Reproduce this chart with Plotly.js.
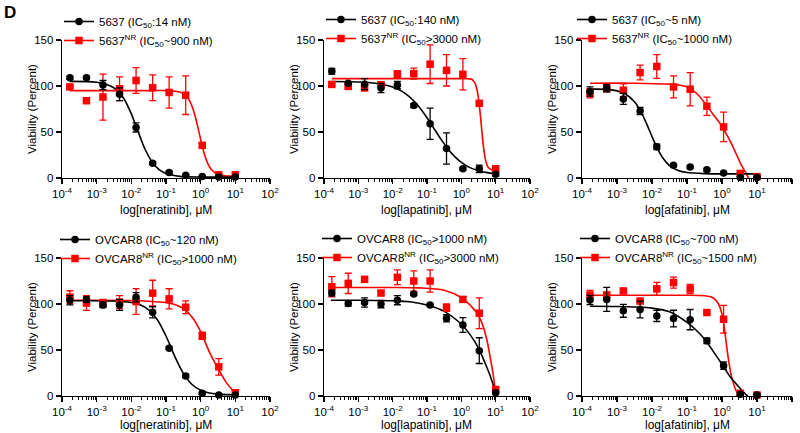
<!DOCTYPE html>
<html>
<head>
<meta charset="utf-8">
<script src="https://cdn.plot.ly/plotly-3.0.1.min.js"></script>
<style>html,body{margin:0;padding:0;background:#fff;}#chart{width:800px;height:433px;}</style>
</head>
<body>
<div id="chart"></div>
<script>
// ---------------- DATA ----------------
// drug concentrations, µM (3-fold dilution series)
const dose = [0.000169, 0.000508, 0.00152, 0.00457, 0.0137, 0.0412, 0.123, 0.370, 1.11, 3.33, 10];

const drugs = ['neratinib', 'lapatinib', 'afatinib', 'neratinib', 'lapatinib', 'afatinib'];
const wtNames = [
  '5637 (IC<sub>50</sub>:14 nM)',
  '5637 (IC<sub>50</sub>:140 nM)',
  '5637 (IC<sub>50</sub>~5 nM)',
  'OVCAR8 (IC<sub>50</sub>~120 nM)',
  'OVCAR8 (IC<sub>50</sub>>1000 nM)',
  'OVCAR8 (IC<sub>50</sub>~700 nM)'
];
const nrNames = [
  '5637<sup>NR</sup> (IC<sub>50</sub>~900 nM)',
  '5637<sup>NR</sup> (IC<sub>50</sub>>3000 nM)',
  '5637<sup>NR</sup> (IC<sub>50</sub>~1000 nM)',
  'OVCAR8<sup>NR</sup> (IC<sub>50</sub>>1000 nM)',
  'OVCAR8<sup>NR</sup> (IC<sub>50</sub>>3000 nM)',
  'OVCAR8<sup>NR</sup> (IC<sub>50</sub>~1500 nM)'
];

// Panel 1: 5637, neratinib
const p1WtY   = [109, 109, 101, 91, 55, 16, 6, 3, 1.5, 1, 1];
const p1WtErr = [1.5, 1.5, 5, 7, 5, 1.5, 1.5, 1, 1, 1, 1];
const p1NrY   = [99, 84, 88, 97, 106, 98, 93, 90, 35.5, 3.5, 3.5];
const p1NrErr = [1.5, 2.5, 25, 13, 14, 14, 17, 21, 2, 1.5, 1.5];
const p1WtFitLogX = [-3.77, -3, -2.6, -2.4, -2.2, -2.0, -1.9, -1.8, -1.7, -1.6, -1.4, -1.2, -1.0, -0.6, 0, 1];
const p1WtFitY    = [105, 104, 100, 95, 85.3, 69.7, 60, 50, 40, 31, 17.3, 9.1, 4.9, 1.8, 1, 1];
const p1NrFitLogX = [-3.77, -2.5, -1.5, -1, -0.6, -0.4, -0.3, -0.2, -0.1, 0, 0.1, 0.2, 0.3, 0.5, 0.7, 1];
const p1NrFitY    = [95, 95, 95, 95, 93.4, 88.4, 82.4, 72.5, 58.3, 41.9, 27, 16.2, 9.6, 3.9, 2.5, 2];

// Panel 2: 5637, lapatinib
const p2WtY   = [116, 103, 102, 97.7, 101, 78.7, 59, 32, 10, 10, 4];
const p2WtErr = [3, 1.5, 6, 5, 4, 2, 17, 17, 1.5, 4, 2];
const p2NrY   = [101.7, 99.5, 98, 101.4, 112.7, 113.4, 123.7, 117, 112.7, 81.2, 10];
const p2NrErr = [1.5, 1.5, 3, 2, 4, 6, 21, 17, 17, 1.5, 3];
const p2WtFitLogX = [-3.77, -3, -2.5, -2, -1.75, -1.5, -1.25, -1, -0.8, -0.6, -0.4, -0.2, 0, 0.25, 0.5, 0.75, 1];
const p2WtFitY    = [104.9, 104.4, 103, 99, 94.7, 88, 78.3, 65.5, 54, 42.5, 32.1, 23.5, 17, 11.3, 7.9, 5.8, 4.6];
const p2NrFitLogX = [-3.77, -2, -1, 0, 0.2, 0.3, 0.35, 0.4, 0.45, 0.5, 0.55, 0.6, 0.65, 0.7, 0.75, 0.8, 0.9, 1];
const p2NrFitY    = [108, 108, 108, 108, 107.8, 107.4, 105.6, 102.8, 97, 86.4, 69.8, 50, 32.4, 20.6, 14, 10.8, 8.6, 8.2];

// Panel 3: 5637, afatinib
const p3WtY   = [94, 97.6, 86, 72.8, 33.9, 13.8, 12, 9, 5.5, 0.5, 0.5];
const p3WtErr = [5, 4, 6, 4, 3, 1.5, 1.5, 1.5, 1.5, 1, 1];
const p3NrY   = [92, 97, 95.4, 114.7, 121.2, 99, 96.5, 78, 55.5, 5, 1.5];
const p3NrErr = [5, 2, 7, 8, 13, 12, 18, 10, 16, 1.5, 1.5];
const p3WtFitLogX = [-3.77, -3.25, -3, -2.75, -2.5, -2.3, -2.15, -2.0, -1.85, -1.7, -1.5, -1.25, -1, -0.5, 0, 1];
const p3WtFitY    = [96.9, 96.1, 94.7, 91.1, 82.9, 70.9, 58.6, 45.1, 32.4, 22.3, 13.5, 8.2, 6, 4.8, 4.5, 4.5];
const p3NrFitLogX = [-3.77, -2.5, -1.5, -1.22, -0.94, -0.7, -0.46, -0.25, 0, 0.15, 0.3, 0.42, 0.54, 0.66, 0.77];
const p3NrFitY    = [103, 103, 102, 101, 98, 91, 80, 69, 56.5, 46, 35, 25, 15, 7, -1];

// Panel 4: OVCAR8, neratinib
const p4WtY   = [104, 104.8, 99, 99, 107.4, 91, 52, 21.8, 2.9, 1, 1];
const p4WtErr = [5, 3, 3, 6, 5, 6, 1.5, 2, 1, 1, 1];
const p4NrY   = [107.4, 101, 101, 102, 102.7, 111.8, 105.6, 96.5, 65.5, 31.7, 3.6];
const p4NrErr = [7, 8, 4, 7, 14, 14, 11, 7, 4, 9, 1.5];
const p4WtFitLogX = [-3.77, -2.5, -2, -1.75, -1.5, -1.25, -1.0, -0.85, -0.7, -0.5, -0.25, 0, 0.25, 0.5, 1];
const p4WtFitY    = [103.5, 103.3, 101.6, 99.1, 93.7, 82.9, 65.2, 52.2, 39.2, 24.6, 12.5, 6.2, 3.2, 2, 1.1];
const p4NrFitLogX = [-3.77, -2, -1.5, -1, -0.75, -0.5, -0.25, 0, 0.25, 0.5, 0.75, 1];
const p4NrFitY    = [104, 103.8, 103, 101.5, 99.5, 95, 86, 70, 48, 30, 14, 3];

// Panel 5: OVCAR8, lapatinib
const p5WtY   = [111.9, 100.6, 101.7, 99.9, 104.2, 110.8, 99, 84.5, 77.2, 49.3, 3.5];
const p5WtErr = [3, 3, 5, 4, 5, 1.5, 1.5, 4, 8, 14, 1];
const p5NrY   = [118.8, 122.4, 126.8, 111.9, 129, 125, 125, 96, 105, 90, 7];
const p5NrErr = [11, 11, 2, 2, 8, 11, 12, 4, 3, 16.7, 1.5];
const p5WtFitLogX = [-3.8, -3, -2, -1.5, -1, -0.5, 0, 0.25, 0.5, 0.7, 0.85, 1];
const p5WtFitY    = [104, 104, 103.5, 102.5, 99, 92, 78, 67, 52, 35, 21, 3.5];
const p5NrFitLogX = [-3.8, -2, -1.25, -0.5, 0, 0.25, 0.5, 0.65, 0.75, 0.85, 0.92, 1];
const p5NrFitY    = [118, 118, 117.5, 115, 107, 99, 87.5, 74, 60, 40, 25, 4];

// Panel 6: OVCAR8, afatinib
const p6WtY   = [104.3, 105, 92.6, 94, 87, 84.2, 83, 60, 33, 1.8, 1];
const p6WtErr = [5, 13, 7, 9, 6, 9, 11, 3, 4, 1, 1];
const p6NrY   = [109.8, 109.8, 114.2, 103.2, 116.4, 123.3, 116.4, 90.7, 83.4, 2.9, 1];
const p6NrErr = [5, 3, 1.5, 1.5, 7, 6, 5, 1.5, 15, 1.5, 1.5];
const p6WtFitLogX = [-3.77, -3, -2.5, -2, -1.5, -1, -0.75, -0.5, -0.25, 0, 0.25, 0.5, 0.7, 0.8];
const p6WtFitY    = [97.5, 97.3, 96.8, 95.5, 91.5, 80, 72, 62, 48.5, 34.5, 20, 9, 1, -3];
const p6NrFitLogX = [-3.77, -2, -1, -0.5, -0.3, -0.2, -0.1, 0, 0.05, 0.1, 0.15, 0.2, 0.25, 0.3, 0.4, 0.5, 0.6];
const p6NrFitY    = [109.5, 109.5, 109.5, 109, 107.5, 105, 100, 89, 78, 64, 49, 36, 25, 17, 6, 1, -2];

const xTickVals = [1e-4, 1e-3, 1e-2, 1e-1, 1e0, 1e1, 1e2];
const xTickText = ['10<sup>-4</sup>', '10<sup>-3</sup>', '10<sup>-2</sup>', '10<sup>-1</sup>', '10<sup>0</sup>', '10<sup>1</sup>', '10<sup>2</sup>'];
const yTickVals = [0, 50, 100, 150];

// ---------------- STYLE / LAYOUT ----------------
const W = 800, H = 433;
const FONT = 'Liberation Sans, Arial, Helvetica, sans-serif';
const COL_WT = '#000000', COL_NR = '#ff0000';

const panels = [
  {wtY:p1WtY, wtErr:p1WtErr, nrY:p1NrY, nrErr:p1NrErr, wfx:p1WtFitLogX, wfy:p1WtFitY, nfx:p1NrFitLogX, nfy:p1NrFitY},
  {wtY:p2WtY, wtErr:p2WtErr, nrY:p2NrY, nrErr:p2NrErr, wfx:p2WtFitLogX, wfy:p2WtFitY, nfx:p2NrFitLogX, nfy:p2NrFitY},
  {wtY:p3WtY, wtErr:p3WtErr, nrY:p3NrY, nrErr:p3NrErr, wfx:p3WtFitLogX, wfy:p3WtFitY, nfx:p3NrFitLogX, nfy:p3NrFitY},
  {wtY:p4WtY, wtErr:p4WtErr, nrY:p4NrY, nrErr:p4NrErr, wfx:p4WtFitLogX, wfy:p4WtFitY, nfx:p4NrFitLogX, nfy:p4NrFitY},
  {wtY:p5WtY, wtErr:p5WtErr, nrY:p5NrY, nrErr:p5NrErr, wfx:p5WtFitLogX, wfy:p5WtFitY, nfx:p5NrFitLogX, nfy:p5NrFitY},
  {wtY:p6WtY, wtErr:p6WtErr, nrY:p6NrY, nrErr:p6NrErr, wfx:p6WtFitLogX, wfy:p6WtFitY, nfx:p6NrFitLogX, nfy:p6NrFitY}
];

// pixel boxes of each subplot: [x0, x1, yTop, yBottom]
const boxes = [
  [62, 270, 40, 178], [324, 530, 40, 178], [582, 792, 40, 178],
  [62, 270, 258, 396], [324, 530, 258, 396], [582, 792, 258, 396]
];
// legend left (px), legend top (px), x-title offset below axis (px)
const legendPos = [[59, 7], [321, 5], [572, 5], [55, 225], [317, 224], [575, 224]];
const xTitleOffset = [32, 32, 32, 29, 29, 29];

const minorVals = [];
for (let e = -4; e < 2; e++) for (let k = 2; k <= 9; k++) minorVals.push(k * Math.pow(10, e));

const traces = [];
const layout = {
  width: W, height: H,
  margin: {l: 0, r: 0, t: 0, b: 0},
  paper_bgcolor: '#fff', plot_bgcolor: '#fff',
  font: {family: FONT, size: 11.5, color: '#000'},
  showlegend: true,
  annotations: [
    {text: '<b>D</b>', x: 2 / W, y: 1 - 1 / H, xref: 'paper', yref: 'paper', xanchor: 'left', yanchor: 'top',
     showarrow: false, font: {family: FONT, size: 17, color: '#000'}}
  ]
};

panels.forEach((p, i) => {
  const n = i + 1;
  const sfx = n === 1 ? '' : String(n);
  const xa = 'x' + sfx, ya = 'y' + sfx, lg = 'legend' + sfx;
  const b = boxes[i];

  layout['xaxis' + sfx] = {
    type: 'log', range: [-4, 2], domain: [b[0] / W, b[1] / W], anchor: ya,
    showline: true, linecolor: '#000', linewidth: 1.3, mirror: false,
    ticks: 'outside', ticklen: 5, tickwidth: 1.2, tickcolor: '#000',
    tickmode: 'array', tickvals: xTickVals, ticktext: xTickText,
    tickfont: {family: FONT, size: 11.5, color: '#000'},
    showgrid: false, zeroline: false, fixedrange: true,
    minor: {tickmode: 'array', tickvals: minorVals, ticks: 'outside', ticklen: 3, tickwidth: 1, tickcolor: '#000', showgrid: false}
  };
  layout['yaxis' + sfx] = {
    range: [0, 150], domain: [1 - b[3] / H, 1 - b[2] / H], anchor: xa,
    showline: true, linecolor: '#000', linewidth: 1.3,
    ticks: 'outside', ticklen: 5, tickwidth: 1.2, tickcolor: '#000',
    tickmode: 'array', tickvals: yTickVals,
    tickfont: {family: FONT, size: 11.5, color: '#000'},
    showgrid: false, zeroline: false, fixedrange: true
  };
  layout[lg] = {
    x: legendPos[i][0] / W, y: 1 - legendPos[i][1] / H, xanchor: 'left', yanchor: 'top',
    bgcolor: 'rgba(0,0,0,0)', borderwidth: 0, font: {family: FONT, size: 11.5, color: '#000'},
    itemwidth: 30, traceorder: 'normal', tracegroupgap: 3
  };
  // axis titles
  layout.annotations.push(
    {text: 'log[' + drugs[i] + '], \u03bcM', x: ((b[0] + b[1]) / 2) / W, y: 1 - (b[3] + xTitleOffset[i]) / H,
     xref: 'paper', yref: 'paper', xanchor: 'center', yanchor: 'middle', showarrow: false,
     font: {family: FONT, size: 12, color: '#000'}},
    {text: 'Viability (Percent)', textangle: -90, x: (b[0] - 30) / W, y: 1 - ((b[2] + b[3]) / 2) / H,
     xref: 'paper', yref: 'paper', xanchor: 'center', yanchor: 'middle', showarrow: false,
     font: {family: FONT, size: 11.5, color: '#000'}}
  );

  // fitted curves
  traces.push({
    x: p.nfx.map(v => Math.pow(10, v)), y: p.nfy, mode: 'lines', xaxis: xa, yaxis: ya,
    line: {color: COL_NR, width: 1.6, shape: 'spline', smoothing: 0.8}, showlegend: false, hoverinfo: 'skip'
  });
  traces.push({
    x: p.wfx.map(v => Math.pow(10, v)), y: p.wfy, mode: 'lines', xaxis: xa, yaxis: ya,
    line: {color: COL_WT, width: 1.6, shape: 'spline', smoothing: 0.8}, showlegend: false, hoverinfo: 'skip'
  });
  // data points with error bars
  traces.push({
    x: dose, y: p.nrY, mode: 'markers', xaxis: xa, yaxis: ya, cliponaxis: false,
    marker: {symbol: 'square', size: 7.5, color: COL_NR},
    error_y: {type: 'data', array: p.nrErr, visible: true, color: COL_NR, thickness: 1.3, width: 3.5},
    showlegend: false, hoverinfo: 'skip'
  });
  traces.push({
    x: dose, y: p.wtY, mode: 'markers', xaxis: xa, yaxis: ya, cliponaxis: false,
    marker: {symbol: 'circle', size: 7.5, color: COL_WT},
    error_y: {type: 'data', array: p.wtErr, visible: true, color: COL_WT, thickness: 1.3, width: 3.5},
    showlegend: false, hoverinfo: 'skip'
  });
  // legend entries
  traces.push({
    x: [null], y: [null], mode: 'lines+markers', xaxis: xa, yaxis: ya, legend: lg, name: wtNames[i],
    legendgroup: 'wt' + n,
    line: {color: COL_WT, width: 1.6}, marker: {symbol: 'circle', size: 7.5, color: COL_WT}, hoverinfo: 'skip'
  });
  traces.push({
    x: [null], y: [null], mode: 'lines+markers', xaxis: xa, yaxis: ya, legend: lg, name: nrNames[i],
    legendgroup: 'nr' + n,
    line: {color: COL_NR, width: 1.6}, marker: {symbol: 'square', size: 7.5, color: COL_NR}, hoverinfo: 'skip'
  });
});

Plotly.newPlot('chart', traces, layout, {staticPlot: true, displayModeBar: false});
</script>
</body>
</html>
